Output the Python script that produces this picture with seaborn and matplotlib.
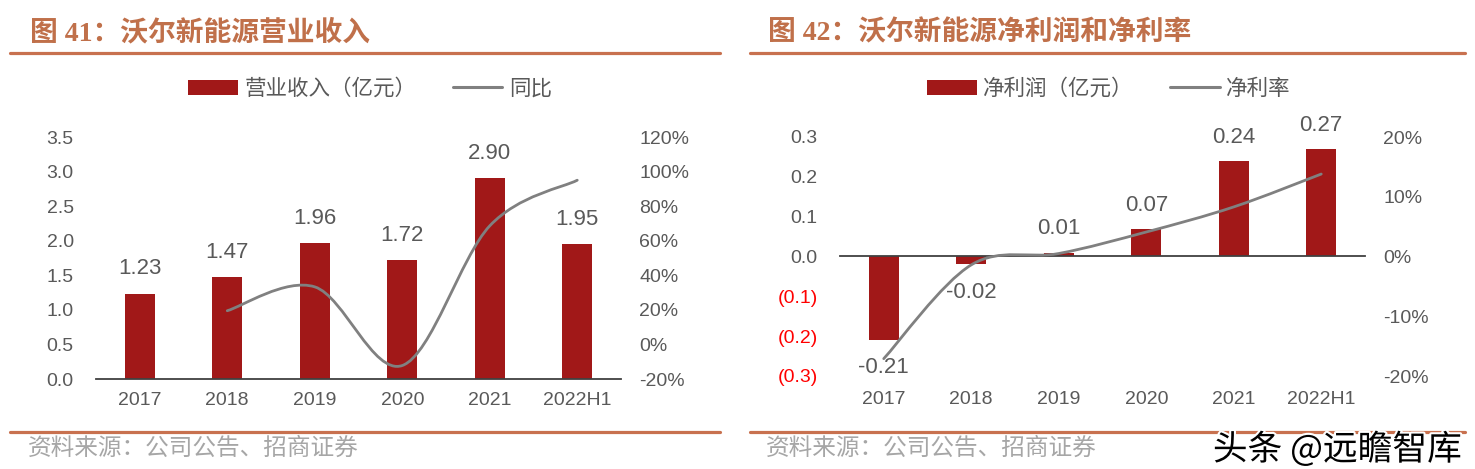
import numpy as np
import pandas as pd
import matplotlib
matplotlib.use('Agg')
import matplotlib.pyplot as plt
import seaborn as sns
from matplotlib.path import Path
from matplotlib.patches import PathPatch, Patch
from matplotlib.lines import Line2D
from matplotlib.ticker import FixedLocator, FuncFormatter
import matplotlib.patheffects as pe

# ---------------- data ----------------
years = ['2017', '2018', '2019', '2020', '2021', '2022H1']
revenue = [1.23, 1.47, 1.96, 1.72, 2.90, 1.95]          # 亿元
revenue_yoy = [np.nan, 19.5, 33.3, -12.2, 68.6, 95.0]   # %
net_profit = [-0.21, -0.02, 0.01, 0.07, 0.24, 0.27]     # 亿元
net_margin = [-17.1, -1.4, 0.5, 4.1, 8.3, 13.8]         # %

rev_ticks = [0.0, 0.5, 1.0, 1.5, 2.0, 2.5, 3.0, 3.5]
yoy_ticks = [-20, 0, 20, 40, 60, 80, 100, 120]
np_ticks = [-0.3, -0.2, -0.1, 0.0, 0.1, 0.2, 0.3]
nm_ticks = [-20, -10, 0, 10, 20]

titles = ['图 41：沃尔新能源营业收入', '图 42：沃尔新能源净利润和净利率']
legend_bar = ['营业收入（亿元）', '净利润（亿元）']
legend_line = ['同比', '净利率']
source = '资料来源：公司公告、招商证券'
watermark = '头条 @远瞻智库'

# ---------------- style ----------------
sns.set_theme(style='white')
plt.rcParams['font.family'] = ['Liberation Sans', 'Noto Sans CJK SC', 'DejaVu Sans']
plt.rcParams['axes.unicode_minus'] = False

BAR = '#A11818'
LINE = '#808080'
TXT = '#595959'
RULE = '#C8714F'
TITLE = '#C0704A'
AXIS = '#404040'

W, H = 1475, 469
fig = plt.figure(figsize=(W / 100, H / 100), dpi=100)


def fx(px):
    return px / W


def fy(py):
    return 1 - py / H


def smooth_path(xs, ys):
    pts = np.column_stack([xs, ys]).astype(float)
    n = len(pts)
    verts = [pts[0]]
    codes = [Path.MOVETO]
    for i in range(n - 1):
        p0 = pts[i - 1] if i > 0 else pts[i]
        p1 = pts[i]
        p2 = pts[i + 1]
        p3 = pts[i + 2] if i + 2 < n else pts[i + 1]
        c1 = p1 + (p2 - p0) / 6
        c2 = p2 - (p3 - p1) / 6
        verts += [c1, c2, p2]
        codes += [Path.CURVE4] * 3
    return Path(verts, codes)


def decorate(ax, ax2):
    for a in (ax, ax2):
        for s in ('top', 'left', 'right'):
            a.spines[s].set_visible(False)
        a.grid(False)
    ax2.spines['bottom'].set_visible(False)
    ax.spines['bottom'].set_color(AXIS)
    ax.spines['bottom'].set_linewidth(1.3)
    ax.set_xlim(-0.5, len(years) - 0.5)
    ax.xaxis.set_minor_locator(FixedLocator(np.arange(-0.5, len(years), 1.0)))
    ax.tick_params(axis='x', which='minor', direction='in', length=5, width=1.2, color=AXIS)
    ax.tick_params(axis='x', which='major', length=0, labelsize=14, labelcolor=TXT, pad=9)
    ax.tick_params(axis='y', length=0, labelsize=14, labelcolor=TXT, pad=16)
    ax2.tick_params(axis='y', length=0, labelsize=14, labelcolor=TXT, pad=13)
    ax.set_xlabel('')
    ax.set_ylabel('')
    ax2.set_ylabel('')


# ---------------- left chart ----------------
axL = fig.add_axes([fx(96), fy(379), fx(621) - fx(96), fy(137) - fy(379)])
dfL = pd.DataFrame({'year': years, 'value': revenue})
sns.barplot(data=dfL, x='year', y='value', color=BAR, width=0.34, linewidth=0,
            saturation=1, ax=axL)
axL2 = axL.twinx()
decorate(axL, axL2)
axL.set_ylim(0, 3.5)
axL.set_yticks(rev_ticks)
axL.yaxis.set_major_formatter(FuncFormatter(lambda v, p: f'{v:.1f}'))
axL2.set_ylim(-20, 120)
axL2.set_yticks(yoy_ticks)
axL2.yaxis.set_major_formatter(FuncFormatter(lambda v, p: f'{v:.0f}%'))

xs = np.arange(len(years))
mask = ~np.isnan(np.array(revenue_yoy, dtype=float))
pathL = smooth_path(xs[mask], np.array(revenue_yoy, dtype=float)[mask])
axL2.add_patch(PathPatch(pathL, facecolor='none', edgecolor=LINE, lw=2.0, capstyle='round'))

for i, v in enumerate(revenue):
    axL.annotate(f'{v:.2f}', (i, v), xytext=(0, 18), textcoords='offset points',
                 ha='center', va='center', fontsize=16, color=TXT)

# ---------------- right chart ----------------
axR = fig.add_axes([fx(840), fy(376), fx(1365) - fx(840), fy(137) - fy(376)])
dfR = pd.DataFrame({'year': years, 'value': net_profit})
sns.barplot(data=dfR, x='year', y='value', color=BAR, width=0.34, linewidth=0,
            saturation=1, ax=axR)
axR2 = axR.twinx()
decorate(axR, axR2)
axR.set_ylim(-0.3, 0.3)
axR.set_yticks(np_ticks)
axR.yaxis.set_major_formatter(
    FuncFormatter(lambda v, p: f'({abs(v):.1f})' if v < -1e-9 else f'{v:.1f}'))
axR.spines['bottom'].set_position(('data', 0))
axR.tick_params(axis='x', which='major', labelbottom=False)
for i, y in enumerate(years):
    axR.annotate(y, (i, 0), xycoords=('data', 'axes fraction'), xytext=(0, -17),
                 textcoords='offset points', ha='center', va='center',
                 fontsize=14, color=TXT)
axR2.set_ylim(-20, 20)
axR2.set_yticks(nm_ticks)
axR2.yaxis.set_major_formatter(FuncFormatter(lambda v, p: f'{v:.0f}%'))

pathR = smooth_path(xs, net_margin)
axR2.add_patch(PathPatch(pathR, facecolor='none', edgecolor=LINE, lw=2.0, capstyle='round'))

for i, v in enumerate(net_profit):
    off = 17 if v >= 0 else -20
    axR.annotate(f'{v:.2f}', (i, v), xytext=(0, off), textcoords='offset points',
                 ha='center', va='center', fontsize=16, color=TXT)

fig.canvas.draw()
for lbl, v in zip(axR.get_yticklabels(), np_ticks):
    lbl.set_color('#FF0000' if v < 0 else TXT)

# ---------------- titles, legends, rules, source ----------------
for k, (x0, x1, tx, cx) in enumerate([(10, 720, 30, 370), (750, 1465, 768, 1109)]):
    fig.text(fx(tx), fy(33), titles[k], fontsize=20, fontweight='bold', color=TITLE,
             ha='left', va='center', family=['Liberation Serif', 'Noto Sans CJK SC'])
    fig.add_artist(Line2D([fx(x0), fx(x1)], [fy(53), fy(53)], color=RULE, lw=2.3))
    fig.add_artist(Line2D([fx(x0), fx(x1)], [fy(432), fy(432)], color=RULE, lw=2.3))
    fig.text(fx(tx - 2), fy(448), source, fontsize=17, color='#A6A6A6',
             ha='left', va='center', family=['Noto Sans CJK SC'])
    handles = [Patch(facecolor=BAR, edgecolor='none'),
               Line2D([0], [0], color=LINE, lw=2.2)]
    fig.legend(handles=handles, labels=[legend_bar[k], legend_line[k]], loc='center',
               bbox_to_anchor=(fx(cx), fy(89)), ncol=2, frameon=False,
               handlelength=2.3, handleheight=0.7, handletextpad=0.3,
               columnspacing=1.7, labelcolor=TXT,
               prop={'family': ['Noto Sans CJK SC'], 'size': 15.5})

fig.text(fx(1462), fy(450), watermark, fontsize=25, color='black', ha='right',
         va='center', family=['Noto Sans CJK SC'],
         path_effects=[pe.withStroke(linewidth=3, foreground='white')])

fig.savefig('out.png', dpi=100)
